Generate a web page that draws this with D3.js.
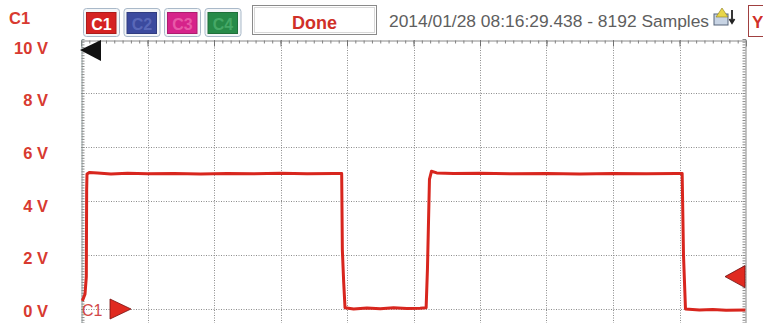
<!DOCTYPE html>
<html>
<head>
<meta charset="utf-8">
<script src="https://cdn.jsdelivr.net/npm/d3@7"></script>
<style>
  html, body { margin: 0; padding: 0; background: #fff; }
  svg { display: block; font-family: "Liberation Sans", Arial, sans-serif; }
</style>
</head>
<body>
<svg id="scope" width="763" height="323"></svg>
<script>
// Channel buttons shown in the toolbar
const channels = ["C1", "C2", "C3", "C4"];
const channelFill = ["#d52222", "#3b4a9e", "#d6238a", "#268a48"];
const channelText = ["#ffffff", "#5968b8", "#e85aa8", "#45a866"];

// Vertical scale labels (volts) and grid divisions
const voltTicks = [0, 2, 4, 6, 8, 10];
const timeDivisions = [0, 1, 2, 3, 4, 5, 6, 7, 8, 9, 10];

// Captured trace of channel 1: time in divisions, level in volts
const sampleTime  = [0.02, 0.06, 0.08, 0.085, 0.09, 0.13, 0.25, 0.45, 0.70, 1.00, 1.40, 1.80, 2.20, 2.60, 3.00, 3.40, 3.80, 3.92,
                     3.93, 3.95, 3.97, 4.10, 4.30, 4.50, 4.70, 4.90, 5.10, 5.19,
                     5.21, 5.24, 5.27, 5.35, 5.60, 6.00, 6.50, 7.00, 7.50, 8.00, 8.50, 8.95, 9.04,
                     9.06, 9.09, 9.30, 9.50, 9.70, 9.99];
const sampleVolts = [0.30, 0.55, 1.20, 4.40, 5.00, 5.06, 5.04, 5.00, 5.03, 5.01, 5.02, 5.00, 5.02, 5.01, 5.03, 5.01, 5.02, 5.02,
                     2.20, 1.00, 0.05, 0.00, 0.04, 0.01, 0.05, 0.02, 0.03, 0.05,
                     1.50, 4.80, 5.10, 5.04, 5.02, 5.03, 5.01, 5.02, 5.00, 5.02, 5.01, 5.02, 5.02,
                     2.00, 0.00, -0.04, -0.02, -0.05, -0.04];

const triggerLevel = 1.2;
const headerDone = "Done";
const headerStamp = "2014/01/28 08:16:29.438 - 8192 Samples";

const svg = d3.select("#scope");
const plot = { left: 81, right: 746, top: 39, zero: 309, bottom: 323 };

const x = d3.scaleLinear().domain([0, 10]).range([plot.left, plot.right]);
const y = d3.scaleLinear().domain([0, 10]).range([plot.zero, plot.top]);
// scale labels sit a little below their grid lines
const yLabel = d3.scaleLinear().domain([0, 10]).range([311, 48]);

const red = "#d8261e";
const labelRed = "#d83a30";

// ---- grid ----
const grid = svg.append("g");
grid.selectAll("line.v").data(timeDivisions.slice(1, -1)).join("line")
  .attr("x1", d => Math.round(x(d)) + 0.5).attr("x2", d => Math.round(x(d)) + 0.5)
  .attr("y1", plot.top + 1).attr("y2", plot.bottom)
  .attr("stroke", "#8c8c8c").attr("stroke-dasharray", "1,1.5");
grid.selectAll("line.h").data(voltTicks.filter(v => v < 10)).join("line")
  .attr("x1", plot.left).attr("x2", plot.right)
  .attr("y1", d => Math.round(y(d)) + 0.5).attr("y2", d => Math.round(y(d)) + 0.5)
  .attr("stroke", "#8c8c8c").attr("stroke-dasharray", "1,1.5");

// ---- rulers on the plot border ----
const minorX = d3.range(0, 80).map(i => i / 8);

svg.append("g").attr("transform", `translate(0,${plot.top + 1.5})`)
  .call(d3.axisBottom(x).tickValues(minorX).tickSize(3).tickFormat(""))
  .call(g => g.selectAll("line").attr("stroke", "#808080"))
  .call(g => g.select(".domain").attr("stroke", "#8a8a8a"));
svg.append("g").attr("transform", `translate(0,${plot.top + 1.5})`)
  .call(d3.axisBottom(x).tickValues(timeDivisions).tickSize(6).tickFormat(""))
  .call(g => g.selectAll("line").attr("stroke", "#707070"))
  .call(g => g.select(".domain").remove());

const yFull = d3.scaleLinear().domain([-0.52, 10]).range([plot.bottom, plot.top]);
svg.append("g").attr("transform", `translate(${plot.left + 0.5},0)`)
  .call(d3.axisRight(yFull).tickValues(d3.range(-5, 100).map(i => i / 10)).tickSize(3).tickFormat(""))
  .call(g => g.selectAll("line").attr("stroke", "#8a8a8a"))
  .call(g => g.select(".domain").attr("stroke", "#8fa0a0"));
svg.append("g").attr("transform", `translate(${plot.right - 0.5},0)`)
  .call(d3.axisLeft(yFull).tickValues(d3.range(-5, 100).map(i => i / 10)).tickSize(3).tickFormat(""))
  .call(g => g.selectAll("line").attr("stroke", "#8a8a8a"))
  .call(g => g.select(".domain").attr("stroke", "#8a8a8a"));

// ---- volt labels ----
svg.append("g").attr("transform", "translate(48,0)")
  .call(d3.axisLeft(yLabel).tickValues(voltTicks).tickSize(0).tickPadding(0).tickFormat(d => d + " V"))
  .call(g => g.select(".domain").remove())
  .call(g => g.selectAll("text")
    .attr("fill", labelRed).attr("font-size", 16.5).attr("font-weight", "bold")
    .attr("font-family", "Liberation Sans, Arial, sans-serif"));

svg.append("text").attr("x", 9).attr("y", 23.5)
  .attr("fill", labelRed).attr("font-size", 16.5).attr("font-weight", "bold").text("C1");

// ---- trace ----
const trace = sampleTime.map((t, i) => [t, sampleVolts[i]]);
svg.append("path").datum(trace)
  .attr("fill", "none").attr("stroke", red).attr("stroke-width", 3)
  .attr("stroke-linejoin", "round")
  .attr("d", d3.line().x(d => x(d[0])).y(d => y(d[1])));

// ---- markers ----
// reference level marker (top-left)
svg.append("path")
  .attr("d", `M${plot.left - 1},${plot.top + 11} L${plot.left + 20},${plot.top + 1} L${plot.left + 20},${plot.top + 22} Z`)
  .attr("fill", "#111");

// channel 1 ground marker
const gy = y(0);
svg.append("text").attr("x", 82).attr("y", gy + 7)
  .attr("fill", "#d24848").attr("font-size", 16).text("C1");
svg.append("path")
  .attr("d", `M110,${gy - 10} L131,${gy} L110,${gy + 10} Z`)
  .attr("fill", "#e02a20").attr("stroke", "#7a1010").attr("stroke-width", 0.8);

// trigger level marker (right edge)
const ty = y(triggerLevel);
svg.append("path")
  .attr("d", `M${plot.right - 21},${ty} L${plot.right - 1},${ty - 11} L${plot.right - 1},${ty + 11} Z`)
  .attr("fill", "#e02a20").attr("stroke", "#6a1010").attr("stroke-width", 0.8);

// ---- toolbar ----
const bar = svg.append("g");
const btn = bar.selectAll("g.btn").data(channels).join("g")
  .attr("transform", (d, i) => `translate(${83 + 40.5 * i},8)`);
btn.append("rect").attr("x", 0.5).attr("y", 0.5).attr("width", 36).attr("height", 28).attr("rx", 3)
  .attr("fill", "#f4f6f8").attr("stroke", "#a9b9c9");
btn.append("rect").attr("x", 3.5).attr("y", 4.5).attr("width", 29.5).attr("height", 21)
  .attr("fill", (d, i) => channelFill[i]).attr("stroke", (d, i) => d3.color(channelFill[i]).darker(0.6));
btn.append("text").attr("x", 18.5).attr("y", 21.5).attr("text-anchor", "middle")
  .attr("font-size", 16).attr("font-weight", "bold")
  .attr("fill", (d, i) => channelText[i]).text(d => d);

bar.append("rect").attr("x", 252.5).attr("y", 5.5).attr("width", 124).attr("height", 29)
  .attr("fill", "#fff").attr("stroke", "#8a8a8a");
bar.append("rect").attr("x", 254.5).attr("y", 7.5).attr("width", 120).attr("height", 25)
  .attr("fill", "none").attr("stroke", "#d8d8d8");
bar.append("text").attr("x", 314.5).attr("y", 29).attr("text-anchor", "middle")
  .attr("font-size", 18).attr("font-weight", "bold").attr("fill", "#d03028").text(headerDone);

bar.append("text").attr("x", 389).attr("y", 27)
  .attr("font-size", 17.4).attr("fill", "#5e5e5e").text(headerStamp);

// small toolbar icon
const icon = bar.append("g").attr("transform", "translate(714,6)");
icon.append("rect").attr("x", 0).attr("y", 8).attr("width", 14).attr("height", 11)
  .attr("fill", "#c8d4e4").attr("stroke", "#56647a");
icon.append("path").attr("d", "M2,11 L8,2 L14,11 Z").attr("fill", "#e8d64a").attr("stroke", "#8a7a20").attr("stroke-width", 0.6);
icon.append("path").attr("d", "M18,4 L18,17 M15.5,13 L18,17 L20.5,13").attr("fill", "none").attr("stroke", "#222").attr("stroke-width", 1.8);

bar.append("rect").attr("x", 748.5).attr("y", 5.5).attr("width", 20).attr("height", 31)
  .attr("fill", "#fff").attr("stroke", "#a04040");
bar.append("text").attr("x", 752).attr("y", 28)
  .attr("font-size", 17).attr("font-weight", "bold").attr("fill", "#d03028").text("Y");
</script>
</body>
</html>
